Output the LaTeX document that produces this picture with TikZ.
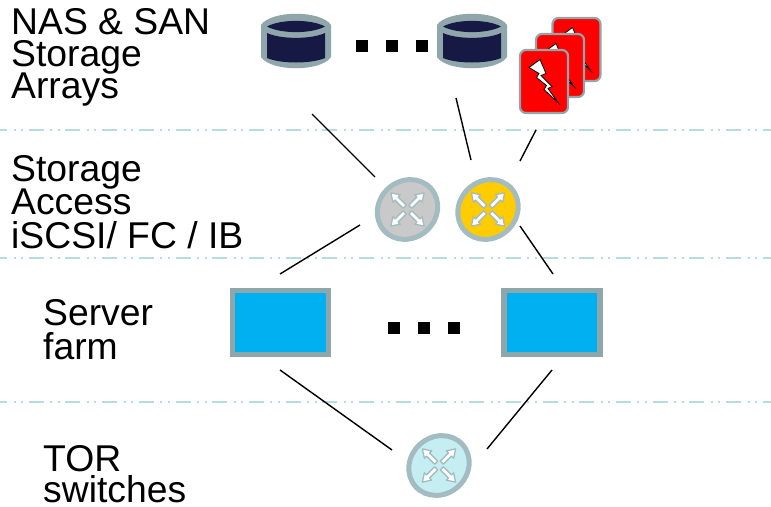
\documentclass[tikz,border=0pt]{standalone}
\usepackage{fontspec}
\setmainfont{Liberation Sans}
\usetikzlibrary{shapes.geometric}
\definecolor{edgegrey}{HTML}{8FA6AA}
\definecolor{swedge}{HTML}{A3BCC1}
\definecolor{sepline}{HTML}{B5DDDF}
\definecolor{navy}{HTML}{171945}
\definecolor{srvblue}{HTML}{00B0F0}
\definecolor{swgrey}{HTML}{C9C9C9}
\definecolor{swyellow}{HTML}{FFCC00}
\definecolor{swcyan}{HTML}{C5EEF3}
\newcommand{\tightlines}{\lineskiplimit=-1000pt\relax}
\tikzset{
  lab/.style={anchor=west,align=left,inner sep=0pt},
  sep/.style={draw=sepline,line width=1.6pt,dash pattern=on 15pt off 6.5pt on 2pt off 5.5pt on 2pt off 5.7pt,dash phase=8pt},
  conn/.style={draw=black,line width=1.4pt},
  dot/.style={fill=black,minimum size=12pt,inner sep=0pt,draw=none},
  server/.style={draw=edgegrey,line width=5.5pt,fill=srvblue,minimum width=96pt,minimum height=64pt,inner sep=0pt},
  swbase/.style={ellipse,draw=swedge,line width=5pt,minimum width=63pt,minimum height=57pt,inner sep=0pt,rotate=42},
  card/.style={draw=edgegrey,line width=2.2pt,fill=red,rounded corners=6pt,minimum width=48pt,minimum height=63pt,inner sep=0pt},
  blockarrow/.style={draw=swedge,line width=1.3pt,fill=white,line join=round}
}
\newcommand{\crossarrows}[1]{%
  \foreach \ang in {45,135,225,315}{
    \draw[blockarrow,shift={(#1)},rotate=\ang]
      (4,-2.2) -- (15.5,-2.2) -- (15.5,-5.2) -- (23.5,0) -- (15.5,5.2) -- (15.5,2.2) -- (4,2.2) -- cycle;
  }}
\newcommand{\diskshape}[1]{%
  \begin{scope}[shift={(#1)}]
    \fill[edgegrey] (-35,-17) .. controls (-25,-32) and (25,-32) .. (35,-17)
      -- (35,15) .. controls (25,30) and (-25,30) .. (-35,15) -- cycle;
    \fill[navy] (-29,-15.5) .. controls (-15,-8) and (15,-8) .. (29,-15.5)
      .. controls (15,-23) and (-15,-23) .. (-29,-15.5) -- cycle;
    \fill[navy] (-29,-9) .. controls (-15,-2.5) and (15,-2.5) .. (29,-9)
      -- (29,16) .. controls (15,22) and (-15,22) .. (-29,16) -- cycle;
  \end{scope}}
\newcommand{\boltshape}[1]{%
  \draw[fill=white,draw=black,line width=.8pt,line join=miter,shift={(#1)}]
    (-15,-14) -- (-4,-22) -- (2,-8) -- (-3,-6) -- (8,5) -- (4,7) -- (14,21)
    -- (0,8) -- (2.5,4) -- (-7.5,-4) -- (-5,-8) -- cycle;}
\begin{document}
\begin{tikzpicture}[x=1pt,y=-1pt]
\useasboundingbox (0,0) rectangle (771,506);
% separators
\coordinate (s1a) at (0,130); \coordinate (s1b) at (771,130);
\coordinate (s2a) at (0,258); \coordinate (s2b) at (771,258);
\coordinate (s3a) at (0,402); \coordinate (s3b) at (771,402);
\draw[sep] (s1a) -- (s1b);
\draw[sep] (s2a) -- (s2b);
\draw[sep] (s3a) -- (s3b);
% labels
\node[lab,font=\fontsize{37.3}{32}\selectfont\tightlines] (l1) at (11,57.5) {NAS \& SAN\\Storage\\Arrays};
\node[lab,font=\fontsize{37.3}{33.5}\selectfont\tightlines] (l2) at (11,202) {Storage\\Access\\iSCSI/ FC / IB};
\node[lab,font=\fontsize{37.3}{34}\selectfont\tightlines] (l3) at (43,330) {Server\\farm};
\node[lab,font=\fontsize{37.3}{31}\selectfont\tightlines] (l4) at (43,474) {TOR\\switches};
% disks
\coordinate (d1) at (296,42);
\coordinate (d2) at (472,42);
\diskshape{d1}
\diskshape{d2}
\node[dot] (a1) at (362,46) {};
\node[dot] (a2) at (392,46) {};
\node[dot] (a3) at (422,46) {};
% cards
\node[card] (c3) at (576.5,49.5) {};
\coordinate (b3) at (576.5,49.5);
\boltshape{b3}
\node[card] (c2) at (560,65.5) {};
\coordinate (b2) at (560,65.5);
\boltshape{b2}
\node[card] (c1) at (544,81.5) {};
\coordinate (b1) at (544,81.5);
\boltshape{b1}
% switches
\node[swbase,fill=swgrey] (sw1) at (407.5,209.5) {};
\crossarrows{sw1.center}
\node[swbase,fill=swyellow] (sw2) at (488,209.5) {};
\crossarrows{sw2.center}
\node[swbase,fill=swcyan] (sw3) at (439,465.5) {};
\crossarrows{sw3.center}
% servers
\node[server] (srv1) at (280.5,322.5) {};
\node[server] (srv2) at (552,322.5) {};
\node[dot] (b1x) at (394,328) {};
\node[dot] (b2x) at (424,328) {};
\node[dot] (b3x) at (454,328) {};
% connector ends
\coordinate (p1) at (312,114); \coordinate (q1) at (375,177);
\coordinate (p2) at (456,98);  \coordinate (q2) at (471,160);
\coordinate (p3) at (536,130); \coordinate (q3) at (520,161);
\coordinate (p4) at (360,225); \coordinate (q4) at (280,274);
\coordinate (p5) at (520,226); \coordinate (q5) at (553,274);
\coordinate (p6) at (280,370); \coordinate (q6) at (392,450);
\coordinate (p7) at (552,370); \coordinate (q7) at (487,449);
\draw[conn] (p1) -- (q1);
\draw[conn] (p2) -- (q2);
\draw[conn] (p3) -- (q3);
\draw[conn] (p4) -- (q4);
\draw[conn] (p5) -- (q5);
\draw[conn] (p6) -- (q6);
\draw[conn] (p7) -- (q7);
\end{tikzpicture}
\end{document}
